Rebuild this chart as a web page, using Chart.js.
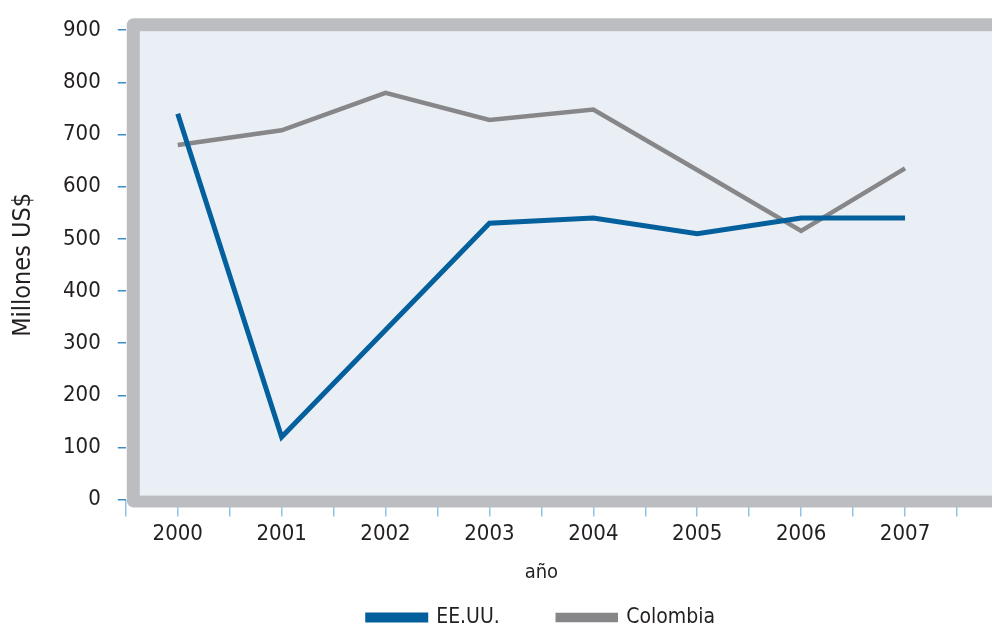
<!DOCTYPE html>
<html>
<head>
<meta charset="utf-8">
<script src="https://cdn.jsdelivr.net/npm/chart.js@4.4.1/dist/chart.umd.min.js"></script>
<style>
  html, body { margin: 0; padding: 0; background: #fff; overflow: hidden; }
  #wrap { width: 992px; height: 629px; }
</style>
</head>
<body>
<div id="wrap"><canvas id="mycanvas" width="992" height="629"></canvas></div>
<script>
// datos
var years = [2000, 2001, 2002, 2003, 2004, 2005, 2006, 2007];
var eeuu = [740, 120, 325, 530, 540, 510, 540, 540];
var colombia = [680, 708, 780, 728, 748, 632, 515, 635];
var yTicks = [0, 100, 200, 300, 400, 500, 600, 700, 800, 900];

var FONT = "'DejaVu Sans Condensed', 'Liberation Sans Narrow', sans-serif";
var TXT = '#231f20';

function pts(vals) {
	var out = [];
	for (var i in years) {
		out.push({x: years[i], y: vals[i]});
	}
	return out;
}

// marco gris redondeado + fondo azulado
var frame = {
	id: 'frame',
	beforeDatasetsDraw: function(chart) {
		var a = chart.chartArea;
		var ctx = chart.ctx;
		ctx.save();
		ctx.fillStyle = '#bcbdc1';
		ctx.beginPath();
		ctx.roundRect(a.left + 1, a.top - 12, chart.width + 20, a.bottom - a.top + 20, 7);
		ctx.fill();
		ctx.fillStyle = '#eaeff6';
		ctx.fillRect(a.left + 14, a.top + 1, chart.width, a.bottom - a.top - 5);
		ctx.restore();
	}
};

var ctx = document.getElementById('mycanvas');

var lineGraph = new Chart(ctx, {
	type: 'line',
	data: {
		datasets: [
			{
				label: 'EE.UU.',
				data: pts(eeuu),
				borderColor: '#04609c',
				backgroundColor: '#04609c',
				borderWidth: 5,
				pointRadius: 0,
				tension: 0
			},
			{
				label: 'Colombia',
				data: pts(colombia),
				borderColor: '#87878a',
				backgroundColor: '#87878a',
				borderWidth: 4.5,
				pointRadius: 0,
				tension: 0
			}
		]
	},
	options: {
		responsive: false,
		animation: false,
		layout: { padding: { top: 7, right: 35, left: 8, bottom: 0 } },
		plugins: {
			tooltip: { enabled: false },
			legend: {
				position: 'bottom',
				fullSize: false,
				maxHeight: 44,
				labels: {
					boxWidth: 58,
					boxHeight: 5,
					padding: 22,
					color: TXT,
					font: { family: FONT, size: 21 },
					generateLabels: function(chart) {
						var items = Chart.defaults.plugins.legend.labels.generateLabels(chart);
						// separacion extra entre las dos entradas
						items[0].text = items[0].text + '      ';
						return items;
					}
				}
			}
		},
		scales: {
			x: {
				type: 'linear',
				min: 1999.5,
				max: 2007.5,
				grid: {
					drawOnChartArea: false,
					drawTicks: true,
					tickLength: 17,
					color: '#8ec4e4',
					lineWidth: 1.5
				},
				border: { display: false },
				ticks: {
					stepSize: 0.5,
					autoSkip: false,
					maxRotation: 0,
					padding: 4,
					color: TXT,
					font: { family: FONT, size: 22 },
					callback: function(v) {
						return Number.isInteger(v) ? String(v) : '';
					}
				},
				title: {
					display: true,
					text: 'año',
					color: TXT,
					font: { family: FONT, size: 20 },
					padding: { top: 10, bottom: 0 }
				}
			},
			y: {
				min: 0,
				max: 900,
				afterBuildTicks: function(axis) {
					axis.ticks = yTicks.map(function(v) { return {value: v}; });
				},
				grid: {
					drawOnChartArea: false,
					drawTicks: true,
					tickLength: 8,
					color: '#3f8cc2',
					lineWidth: 1.5
				},
				border: { display: false },
				ticks: {
					padding: 17,
					color: TXT,
					font: { family: FONT, size: 22 }
				},
				title: {
					display: true,
					text: 'Millones US$',
					color: TXT,
					font: { family: FONT, size: 25 },
					padding: { top: 0, bottom: 8 }
				}
			}
		}
	},
	plugins: [frame]
});
</script>
</body>
</html>
